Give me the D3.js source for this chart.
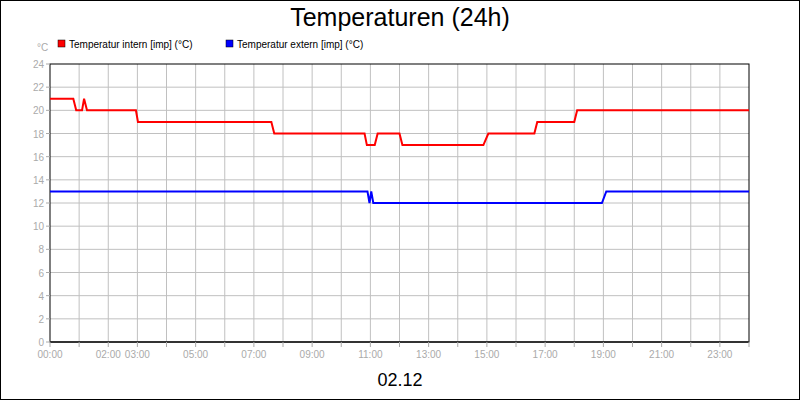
<!DOCTYPE html>
<html><head><meta charset="utf-8">
<script src="https://cdn.jsdelivr.net/npm/d3@7"></script>
<style>body{margin:0}svg{display:block;font-family:"Liberation Sans",Arial,sans-serif}</style>
</head><body><svg></svg>
<script>
const width = 800, height = 400;
const hourTicks = [0, 2, 3, 5, 7, 9, 11, 13, 15, 17, 19, 21, 23];
const yTicks = [0, 2, 4, 6, 8, 10, 12, 14, 16, 18, 20, 22, 24];
// hours, value
const internHours = [0, 0.8, 0.9, 1.1, 1.17, 1.27, 2.95, 3.02, 7.6, 7.7, 10.8, 10.88, 11.15, 11.25, 12.0, 12.1, 14.88, 15.05, 16.63, 16.73, 18.0, 18.1, 24];
const internVals  = [21, 21, 20, 20, 21, 20, 20, 19, 19, 18, 18, 17, 17, 18, 18, 17, 17, 18, 18, 19, 19, 20, 20];
const externHours = [0, 10.9, 10.97, 11.03, 11.1, 18.95, 19.1, 24];
const externVals  = [13, 13, 12, 13, 12, 12, 13, 13];

const svg = d3.select("svg").attr("width", width).attr("height", height);
svg.append("rect").attr("x", 0.5).attr("y", 0.5).attr("width", width - 1).attr("height", height - 1)
    .attr("fill", "#fff").attr("stroke", "#000");

const m = {l: 50, r: 749, t: 64, b: 342};
const x = d3.scaleLinear().domain([0, 24]).range([m.l, m.r]);
const y = d3.scaleLinear().domain([0, 24]).range([m.b, m.t]);

const grid = svg.append("g").attr("stroke", "#c0c0c0");
grid.selectAll(".v").data(d3.range(1, 24)).enter().append("line")
    .attr("x1", d => x(d)).attr("x2", d => x(d)).attr("y1", m.t).attr("y2", m.b);
grid.selectAll(".h").data(yTicks.slice(1, -1)).enter().append("line")
    .attr("x1", m.l).attr("x2", m.r).attr("y1", d => y(d)).attr("y2", d => y(d));

svg.append("rect").attr("x", m.l).attr("y", m.t).attr("width", m.r - m.l).attr("height", m.b - m.t)
    .attr("fill", "none").attr("stroke", "#000");
svg.append("line").attr("x1", m.l).attr("x2", m.r).attr("y1", m.b).attr("y2", m.b)
    .attr("stroke", "#333").attr("stroke-width", 2);

// x ticks
const xt = svg.append("g").attr("stroke", "#aaa");
xt.selectAll("line").data(d3.range(0, 25)).enter().append("line")
    .attr("x1", d => x(d)).attr("x2", d => x(d)).attr("y1", m.b).attr("y2", m.b + 5);
svg.append("g").selectAll("text").data(hourTicks).enter().append("text")
    .attr("x", d => x(d)).attr("y", m.b + 16).attr("text-anchor", "middle")
    .attr("font-size", 10).attr("fill", "#aaa")
    .text(d => String(d).padStart(2, "0") + ":00");

// y ticks
svg.append("g").selectAll("line").data(yTicks).enter().append("line")
    .attr("x1", m.l - 4).attr("x2", m.l).attr("y1", d => y(d)).attr("y2", d => y(d)).attr("stroke", "#aaa");
svg.append("g").selectAll("text").data(yTicks).enter().append("text")
    .attr("x", m.l - 6).attr("y", d => y(d) + 4).attr("text-anchor", "end")
    .attr("font-size", 10).attr("fill", "#aaa").text(d => d);
svg.append("text").attr("x", 37).attr("y", 51).attr("font-size", 10).attr("fill", "#aaa").text("°C");

const line = d3.line().x(d => x(d[0])).y(d => y(d[1]));
const series = [
    {name: "Temperatur intern [imp] (°C)", color: "#ff0000", pts: d3.zip(internHours, internVals), lx: 58},
    {name: "Temperatur extern [imp] (°C)", color: "#0000ff", pts: d3.zip(externHours, externVals), lx: 226}
];
series.forEach(s => {
    svg.append("path").attr("d", line(s.pts)).attr("fill", "none")
        .attr("stroke", s.color).attr("stroke-width", 2);
    svg.append("rect").attr("x", s.lx).attr("y", 40).attr("width", 7).attr("height", 7)
        .attr("fill", s.color).attr("stroke", "#000").attr("stroke-width", 0.5);
    svg.append("text").attr("x", s.lx + 11).attr("y", 48).attr("font-size", 10).attr("fill", "#000").text(s.name);
});

svg.append("text").attr("x", 400).attr("y", 26).attr("text-anchor", "middle")
    .attr("font-size", 25).text("Temperaturen (24h)");
svg.append("text").attr("x", 400).attr("y", 386).attr("text-anchor", "middle")
    .attr("font-size", 18).text("02.12");
</script></body></html>
